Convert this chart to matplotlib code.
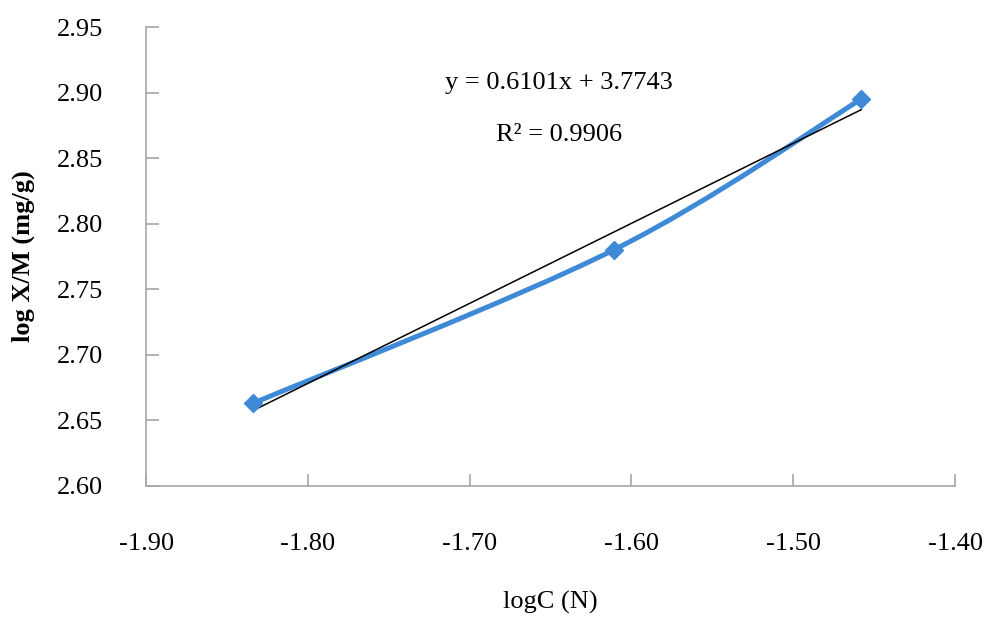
import numpy as np
import matplotlib
matplotlib.use('Agg')
import matplotlib.pyplot as plt
from matplotlib.path import Path
from matplotlib.patches import PathPatch

# data
log_c = [-1.834, -1.611, -1.458]
log_xm = [2.663, 2.780, 2.895]
eq_text = 'y = 0.6101x + 3.7743'
r2_text = 'R² = 0.9906'
xticks = [-1.90, -1.80, -1.70, -1.60, -1.50, -1.40]
yticks = [2.60, 2.65, 2.70, 2.75, 2.80, 2.85, 2.90, 2.95]

plt.rcParams['font.family'] = ['Liberation Serif', 'DejaVu Serif']
plt.rcParams['font.size'] = 19

blue = '#3F8AD6'
spine_col = '#A6A6A6'

fig = plt.figure(figsize=(9.87, 6.18), dpi=100)
ax = fig.add_axes([0.148, 0.2136, 0.8196, 0.7427])

# smoothed line (Excel style Catmull-Rom bezier)
pts = np.column_stack([log_c, log_xm])
verts = [pts[0]]
codes = [Path.MOVETO]
n = len(pts)
for i in range(n - 1):
    p0 = pts[i - 1] if i > 0 else pts[i]
    p1 = pts[i]
    p2 = pts[i + 1]
    p3 = pts[i + 2] if i + 2 < n else pts[i + 1]
    c1 = p1 + (p2 - p0) / 6.
    c2 = p2 - (p3 - p1) / 6.
    verts += [c1, c2, p2]
    codes += [Path.CURVE4] * 3
ax.add_patch(PathPatch(Path(verts, codes), fill=False, edgecolor=blue, lw=3.6,
                       capstyle='round', joinstyle='round', zorder=2))
ax.plot(log_c, log_xm, ls='None', marker='D', ms=9.5, color=blue, zorder=3)

# linear trendline
k, b = np.polyfit(log_c, log_xm, 1)
tx = np.array([log_c[0], log_c[-1]])
ax.plot(tx, k * tx + b, color='black', lw=1.1, zorder=2.5)

ax.text(0.51, 0.877, eq_text, transform=ax.transAxes, ha='center', va='center')
ax.text(0.51, 0.764, r2_text, transform=ax.transAxes, ha='center', va='center')

ax.set_xlim(-1.90, -1.40)
ax.set_ylim(2.60, 2.95)
ax.set_xticks(xticks)
ax.set_yticks(yticks)
ax.set_xticklabels(['%.2f' % v for v in xticks])
ax.set_yticklabels(['%.2f' % v for v in yticks])

for s in ['top', 'right']:
    ax.spines[s].set_visible(False)
for s in ['left', 'bottom']:
    ax.spines[s].set_color(spine_col)
    ax.spines[s].set_linewidth(1.2)
ax.tick_params(axis='both', direction='in', length=9, width=1.2, color=spine_col)
ax.tick_params(axis='x', pad=34)
ax.tick_params(axis='y', pad=31)

ax.set_xlabel('logC (N)', labelpad=26)
ax.set_ylabel('log X/M (mg/g)', fontweight='bold', labelpad=16)

fig.savefig('out.png', dpi=100)
